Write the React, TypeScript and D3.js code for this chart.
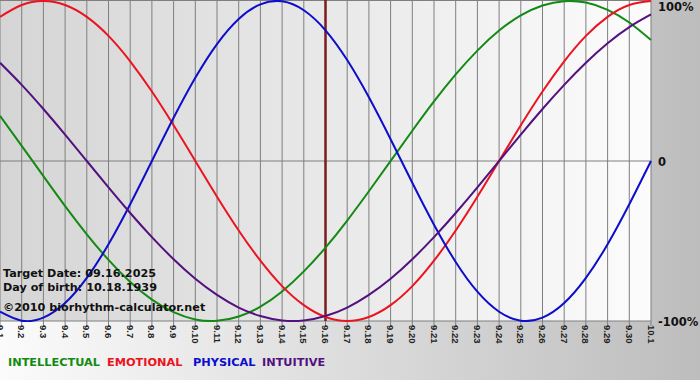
import React from "react";
import * as d3 from "d3";

const days = ["9.1","9.2","9.3","9.4","9.5","9.6","9.7","9.8","9.9","9.10","9.11","9.12","9.13","9.14","9.15","9.16","9.17","9.18","9.19","9.20","9.21","9.22","9.23","9.24","9.25","9.26","9.27","9.28","9.29","9.30","10.1"];

const physical = [-0.942,-0.998,-0.979,-0.888,-0.731,-0.520,-0.270,0,0.270,0.520,0.731,0.888,0.979,0.998,0.942,0.817,0.631,0.398,0.136,-0.136,-0.398,-0.631,-0.817,-0.942,-0.998,-0.979,-0.888,-0.731,-0.520,-0.270,0];
const emotional = [0.901,0.975,1,0.975,0.901,0.782,0.623,0.434,0.223,0,-0.223,-0.434,-0.623,-0.782,-0.901,-0.975,-1,-0.975,-0.901,-0.782,-0.623,-0.434,-0.223,0,0.223,0.434,0.623,0.782,0.901,0.975,1];
const intellectual = [0.282,0.095,-0.095,-0.282,-0.458,-0.618,-0.756,-0.866,-0.945,-0.990,-0.999,-0.972,-0.910,-0.815,-0.690,-0.541,-0.372,-0.189,0,0.189,0.372,0.541,0.690,0.815,0.910,0.972,0.999,0.990,0.945,0.866,0.756];
const intuitive = [0.614,0.476,0.325,0.165,0,-0.165,-0.325,-0.476,-0.614,-0.736,-0.837,-0.916,-0.969,-0.997,-0.997,-0.969,-0.916,-0.837,-0.736,-0.614,-0.476,-0.325,-0.165,0,0.165,0.325,0.476,0.614,0.736,0.837,0.916];

const targetDay = "9.16";
const yTickValues = [1, 0, -1];
const yTickLabels = ["100%", "0", "-100%"];
const infoLines = ["Target Date: 09.16.2025", "Day of birth: 10.18.1939", "\u00a92010 biorhythm-calculator.net"];

const series = [
  { name: "INTELLECTUAL", values: intellectual, color: "#138a13" },
  { name: "EMOTIONAL", values: emotional, color: "#ec1320" },
  { name: "PHYSICAL", values: physical, color: "#0d0dcc" },
  { name: "INTUITIVE", values: intuitive, color: "#52117f" },
];

const W = 700, H = 380;
const plot = { left: 0, top: 1, right: 651, bottom: 321 };

export default function App() {
  const x = d3.scaleLinear().domain([0, days.length - 1]).range([plot.left, plot.right]);
  const y = d3.scaleLinear().domain([-1, 1]).range([plot.bottom, plot.top]);
  const line = d3.line<number>().x((_, i) => x(i)).y((v) => y(v)).curve(d3.curveNatural);
  const ti = days.indexOf(targetDay);
  const font = "'DejaVu Sans', Verdana, sans-serif";
  const legendX = [8, 107, 193, 262];

  return (
    <svg width={W} height={H} style={{ position: "fixed", left: 0, top: 0 }}>
      <defs>
        <linearGradient id="outer" x1="0" x2="1" y1="0" y2="0">
          <stop offset="0" stopColor="#fbfbfb" />
          <stop offset="1" stopColor="#bdbdbd" />
        </linearGradient>
        <linearGradient id="inner" x1="0" x2="1" y1="0" y2="0">
          <stop offset="0" stopColor="#d5d5d5" />
          <stop offset="1" stopColor="#fcfcfc" />
        </linearGradient>
        <clipPath id="clip">
          <rect x={0} y={0} width={plot.right + 1} height={plot.bottom + 1} />
        </clipPath>
      </defs>
      <rect x={0} y={0} width={W} height={H} fill="url(#outer)" />
      <rect x={plot.left} y={0} width={plot.right - plot.left} height={plot.bottom} fill="url(#inner)" />
      {days.map((d, i) => (
        <line key={"g" + d} x1={x(i)} x2={x(i)} y1={0} y2={plot.bottom} stroke="#7f7f7f" strokeWidth={1} />
      ))}
      <line x1={0} x2={plot.right} y1={0.5} y2={0.5} stroke="#7f7f7f" />
      <line x1={0} x2={plot.right} y1={y(0)} y2={y(0)} stroke="#7f7f7f" />
      <line x1={0} x2={plot.right} y1={plot.bottom} y2={plot.bottom} stroke="#7f7f7f" />
      {days.map((d, i) => (
        <g key={"t" + d}>
          <line x1={x(i)} x2={x(i)} y1={plot.bottom} y2={plot.bottom + 5} stroke="#7f7f7f" />
          <text
            transform={`translate(${x(i)},${plot.bottom + 4}) rotate(90)`}
            fontFamily="'Liberation Sans', Arial, sans-serif"
            fontWeight="bold"
            fontSize={9.5}
            dominantBaseline="central"
            fill="#222"
          >
            {d}
          </text>
        </g>
      ))}
      <line x1={x(ti)} x2={x(ti)} y1={0} y2={plot.bottom} stroke="#7a1d1d" strokeWidth={2.5} />
      <g clipPath="url(#clip)">
        {series.map((s) => (
          <path key={s.name} d={line(s.values) || ""} fill="none" stroke={s.color} strokeWidth={2} />
        ))}
      </g>
      {yTickValues.map((v, i) => (
        <text key={"y" + i} x={plot.right + 7} y={Math.max(y(v) + 5, 11)} fontFamily={font} fontWeight="bold" fontSize={11.5} fill="#111">
          {yTickLabels[i]}
        </text>
      ))}
      {infoLines.map((t, i) => (
        <text key={"i" + i} x={3} y={[277, 291, 311][i]} fontFamily={font} fontWeight="bold" fontSize={11.2} fill="#111">
          {t}
        </text>
      ))}
      {series.map((s, i) => (
        <text key={"l" + s.name} x={legendX[i]} y={366} fontFamily={font} fontWeight="bold" fontSize={11.3} fill={s.color}>
          {s.name}
        </text>
      ))}
    </svg>
  );
}
